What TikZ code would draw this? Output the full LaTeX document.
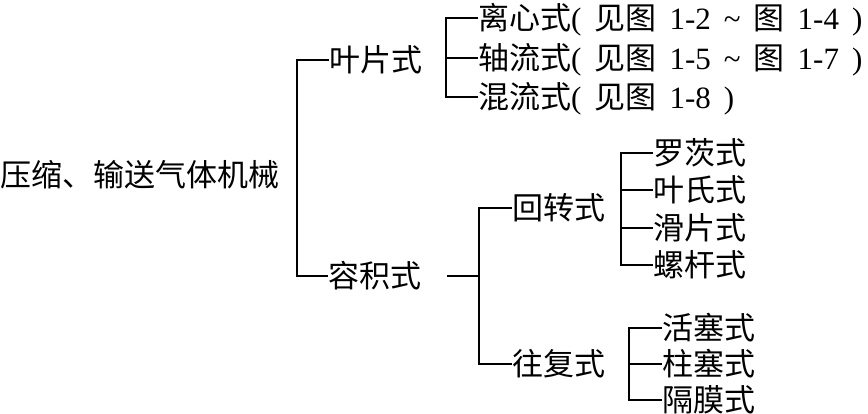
\documentclass[tikz,border=0pt]{standalone}
\usepackage{fontspec}
\setmainfont{Noto Sans CJK SC}
\newfontfamily\latf{Liberation Serif}
\newcommand\gp{\hspace{0.42em}}
\tikzset{
  lab/.style={anchor=west, inner sep=0pt, font=\fontsize{31}{36}\selectfont, text height=26pt, text depth=3pt},
  conn/.style={line width=1.2pt, black}
}
\begin{document}
\begin{tikzpicture}[x=1pt,y=-1pt]
\useasboundingbox (0,0) rectangle (868,413);
% nodes
\node[lab] (root) at (0,175) {压缩、输送气体机械};
\node[lab] (ye) at (329,60) {叶片式};
\node[lab] (rong) at (328,276) {容积式};
\node[lab] (li) at (478,18) {离心式{\latf(\gp}见图{\latf\gp 1-2\gp\textasciitilde\gp}图{\latf\gp 1-4\gp)}};
\node[lab] (zhou) at (478,58) {轴流式{\latf(\gp}见图{\latf\gp 1-5\gp\textasciitilde\gp}图{\latf\gp 1-7\gp)}};
\node[lab] (hun) at (478,97) {混流式{\latf(\gp}见图{\latf\gp 1-8\gp)}};
\node[lab] (hui) at (512,208) {回转式};
\node[lab] (wang) at (512,364) {往复式};
\node[lab] (luo) at (653,153) {罗茨式};
\node[lab] (yes) at (653,190) {叶氏式};
\node[lab] (hua) at (653,228) {滑片式};
\node[lab] (lg) at (653,265) {螺杆式};
\node[lab] (huo) at (662,328) {活塞式};
\node[lab] (zhu) at (662,364) {柱塞式};
\node[lab] (ge) at (662,400) {隔膜式};
% bracket coordinates
\coordinate (b1) at (297,0);
\coordinate (b2) at (446,0);
\coordinate (b3) at (479,0);
\coordinate (b4) at (621,0);
\coordinate (b5) at (629,0);
\coordinate (rs) at (447,276);
% connectors
\draw[conn] (ye.west) -- (ye.west -| b1) |- (rong.west);
\draw[conn] (li.west) -- (li.west -| b2) |- (hun.west);
\draw[conn] (zhou.west) -- (zhou.west -| b2);
\draw[conn] (rs) -- (rs -| b3);
\draw[conn] (hui.west) -- (hui.west -| b3) |- (wang.west);
\draw[conn] (luo.west) -- (luo.west -| b4) |- (lg.west);
\draw[conn] (yes.west) -- (yes.west -| b4);
\draw[conn] (hua.west) -- (hua.west -| b4);
\draw[conn] (huo.west) -- (huo.west -| b5) |- (ge.west);
\draw[conn] (zhu.west) -- (zhu.west -| b5);
\end{tikzpicture}
\end{document}
